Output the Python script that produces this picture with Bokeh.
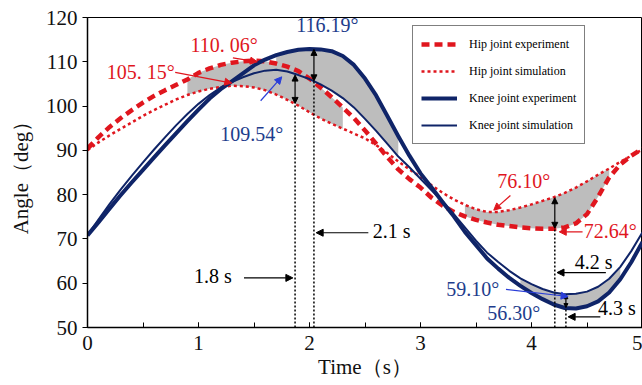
from bokeh.plotting import figure
from bokeh.models import (Range1d, SingleIntervalTicker, FixedTicker, Legend, LegendItem,
                          Arrow, NormalHead, Label)
from bokeh.embed import file_html
from bokeh.resources import INLINE

# ---------------- data ----------------
time_s = [round(0.1 * i, 1) for i in range(51)]

knee_experiment = [70.8, 73.8, 76.9, 79.9, 82.8, 85.6, 88.4, 91.2, 93.9, 96.6,
                   99.2, 101.7, 103.8, 105.6, 107.4, 109.2, 110.5, 111.5, 112.2, 112.7,
                   112.9, 112.8, 112.4, 111.3, 109.3, 106.2, 102.4, 97.8, 93.2, 88.8,
                   84.8, 81.6, 78.3, 75.1, 71.6, 68.6, 65.6, 63.3, 61.2, 59.4,
                   57.8, 56.4, 55.2, 54.4, 54.3, 54.8, 55.9, 57.9, 60.9, 64.8,
                   69.3]
knee_simulation = [70.8, 74.4, 77.9, 81.2, 84.3, 87.3, 90.2, 93.0, 95.7, 98.2,
                   100.5, 102.5, 104.2, 105.4, 106.5, 107.4, 108.0, 108.2, 107.8, 107.0,
                   106.1, 104.9, 103.5, 101.8, 99.7, 97.1, 94.4, 91.5, 88.6, 86.2,
                   83.6, 81.0, 78.4, 75.6, 72.6, 69.6, 66.9, 64.8, 62.8, 61.1,
                   59.8, 58.7, 57.9, 57.5, 57.6, 58.1, 59.2, 61.0, 63.7, 67.3,
                   71.5]
hip_experiment = [90.4, 93.0, 95.3, 97.3, 99.1, 100.8, 102.3, 103.6, 104.8, 106.0,
                  107.5, 108.5, 109.3, 109.8, 110.1, 110.3, 110.1, 109.6, 108.9, 107.9,
                  106.2, 104.2, 102.0, 99.7, 97.3, 94.5, 91.5, 88.5, 85.7, 83.5,
                  81.6, 79.3, 77.5, 76.1, 75.1, 74.3, 73.7, 73.2, 72.9, 72.6,
                  72.4, 72.3, 72.3, 72.6, 73.5, 75.6, 79.5, 83.9, 86.8, 88.8,
                  90.4]
hip_simulation = [90.0, 91.8, 93.4, 94.9, 96.3, 97.8, 99.1, 100.3, 101.5, 102.5,
                  103.3, 103.9, 104.3, 104.6, 104.5, 104.2, 103.6, 102.6, 101.4, 100.1,
                  98.6, 97.2, 96.0, 94.9, 93.8, 92.7, 91.2, 89.4, 87.5, 85.7,
                  84.0, 82.1, 80.4, 78.9, 77.7, 76.7, 76.1, 76.1, 76.5, 77.1,
                  77.8, 78.6, 79.4, 80.4, 81.6, 83.0, 84.5, 85.9, 87.4, 88.8,
                  90.2]

x_ticks = [0, 1, 2, 3, 4, 5]
y_ticks = [50, 60, 70, 80, 90, 100, 110, 120]

# shaded difference bands: (start time, end time, lower series, upper series)
bands = [
    (0.9, 2.3, "hip_sim", "hip_exp"),
    (1.7, 2.8, "knee_sim", "knee_exp"),
    (3.4, 4.7, "hip_exp", "hip_sim"),
    (3.9, 4.8, "knee_exp", "knee_sim"),
]

# annotation texts
value_labels = ["116.19°", "110. 06°", "105. 15°", "109.54°", "76.10°", "72.64°", "59.10°", "56.30°"]
time_labels = ["1.8 s", "2.1 s", "4.2 s", "4.3 s"]

# ---------------- styles ----------------
RED = "#e0161e"
NAVY = "#0f2468"
TEXT_NAVY = "#1e3d8c"
ARROW_BLUE = "#2a3ed8"
GRAY = "#bdbdbd"
SERIF = "Liberation Serif"

series = {
    "knee_exp": knee_experiment,
    "knee_sim": knee_simulation,
    "hip_exp": hip_experiment,
    "hip_sim": hip_simulation,
}

p = figure(width=642, height=385, output_backend="svg", toolbar_location=None,
           x_range=Range1d(0, 5), y_range=Range1d(50, 120),
           min_border_left=87, min_border_right=0, min_border_top=17, min_border_bottom=58)
p.background_fill_color = "white"
p.border_fill_color = "white"
p.outline_line_color = "black"
p.outline_line_width = 1
p.xgrid.visible = False
p.ygrid.visible = False

# bands
for (t0, t1, lo, hi) in bands:
    idx = [i for i, tt in enumerate(time_s) if t0 - 1e-9 <= tt <= t1 + 1e-9]
    p.varea(x=[time_s[i] for i in idx],
            y1=[series[lo][i] for i in idx],
            y2=[series[hi][i] for i in idx],
            fill_color=GRAY, fill_alpha=1.0)

r_he = p.line(time_s, hip_experiment, line_color=RED, line_width=4.5, line_dash="8 5")
r_hs = p.line(time_s, hip_simulation, line_color=RED, line_width=2.5, line_dash="3 3")
r_ke = p.line(time_s, knee_experiment, line_color=NAVY, line_width=4, line_join="round")
r_ks = p.line(time_s, knee_simulation, line_color=NAVY, line_width=2, line_join="round")

# vertical dotted guide lines (time, top value)
guides_t = [1.87, 2.04, 4.21, 4.31]
guides_top = [100.5, 105.6, 72.3, 54.4]
p.segment(x0=guides_t, y0=[50] * 4, x1=guides_t, y1=guides_top,
          line_color="black", line_width=1.5, line_dash="2 2")

def arrow(x0, y0, x1, y1, color, double=False, size=7, width=1.2):
    head = NormalHead(size=size, fill_color=color, line_color=color)
    kw = dict(end=head, x_start=x0, y_start=y0, x_end=x1, y_end=y1,
              line_color=color, line_width=width)
    if double:
        kw["start"] = NormalHead(size=size, fill_color=color, line_color=color)
    else:
        kw["start"] = None
    p.add_layout(Arrow(**kw))

# double arrows showing the gaps
arrow(1.87, 107.0, 1.87, 100.6, "black", double=True, size=6)
arrow(2.04, 112.8, 2.04, 105.7, "black", double=True, size=6)
arrow(4.21, 79.3, 4.21, 72.4, "black", double=True, size=6)
arrow(4.31, 57.4, 4.31, 54.5, "black", double=True, size=4)

# pointer arrows
arrow(1.31, 110.9, 1.53, 110.0, RED)
arrow(0.79, 107.6, 1.30, 105.2, RED)
arrow(1.56, 101.2, 1.75, 106.6, ARROW_BLUE)
arrow(3.81, 79.8, 3.66, 76.5, RED)
arrow(4.46, 71.6, 4.25, 71.6, RED)
arrow(3.77, 58.6, 4.33, 57.0, ARROW_BLUE)
arrow(1.41, 61.2, 1.85, 61.2, "black")
arrow(2.53, 71.4, 2.06, 71.4, "black")
arrow(4.67, 62.4, 4.23, 62.4, "black")
arrow(4.62, 52.4, 4.33, 52.4, "black")

def label(x, y, text, color, align="center", size="20px"):
    p.add_layout(Label(x=x, y=y, text=text, text_color=color, text_font=SERIF,
                       text_font_size=size, text_align=align, text_baseline="middle"))

label(2.16, 118.4, value_labels[0], TEXT_NAVY)
label(1.23, 113.9, value_labels[1], RED)
label(0.48, 107.6, value_labels[2], RED)
label(1.48, 93.6, value_labels[3], TEXT_NAVY)
label(3.93, 83.0, value_labels[4], RED)
label(4.47, 71.7, value_labels[5], RED, align="left")
label(3.47, 58.6, value_labels[6], TEXT_NAVY)
label(3.84, 53.2, value_labels[7], TEXT_NAVY)
label(0.96, 61.7, time_labels[0], "black", align="left")
label(2.57, 71.7, time_labels[1], "black", align="left")
label(4.39, 64.8, time_labels[2], "black", align="left")
label(4.60, 54.5, time_labels[3], "black", align="left")

# axes
p.xaxis.ticker = SingleIntervalTicker(interval=1, num_minor_ticks=2)
p.yaxis.ticker = FixedTicker(ticks=y_ticks)
p.xaxis.axis_label = "Time（s）"
p.yaxis.axis_label = "Angle（deg）"
for ax in (p.xaxis[0], p.yaxis[0]):
    ax.axis_line_color = "black"
    ax.axis_line_width = 1.5
    ax.major_label_text_font = SERIF
    ax.major_label_text_font_size = "21px"
    ax.major_label_text_color = "#111111"
    ax.axis_label_text_font = SERIF
    ax.axis_label_text_font_size = "21px"
    ax.axis_label_text_font_style = "normal"
    ax.axis_label_text_color = "#111111"
    ax.major_tick_line_color = "black"
    ax.minor_tick_line_color = "black"

p.xaxis.major_tick_in = 5
p.xaxis.major_tick_out = 0
p.xaxis.minor_tick_in = 5
p.xaxis.minor_tick_out = 0
p.xaxis.major_label_standoff = 8
p.xaxis.axis_label_standoff = 2

p.yaxis.major_tick_in = 0
p.yaxis.major_tick_out = 5
p.yaxis.minor_tick_line_color = None
p.yaxis.major_label_standoff = 5
p.yaxis.axis_label_standoff = 10

legend = Legend(items=[
    LegendItem(label="Hip joint experiment", renderers=[r_he]),
    LegendItem(label="Hip joint simulation", renderers=[r_hs]),
    LegendItem(label="Knee joint experiment", renderers=[r_ke]),
    LegendItem(label="Knee joint simulation", renderers=[r_ks]),
], location=(325, 183))
legend.label_text_font = SERIF
legend.label_text_font_size = "12px"
legend.label_text_font_style = "normal"
legend.label_text_color = "black"
legend.border_line_color = "black"
legend.border_line_width = 1
legend.background_fill_color = "white"
legend.background_fill_alpha = 1
legend.glyph_width = 36
legend.glyph_height = 20
legend.label_height = 20
legend.spacing = 7
legend.padding = 8
legend.margin = 0
legend.label_standoff = 12
p.add_layout(legend, "center")

open("out.html", "w").write(file_html(p, INLINE))
